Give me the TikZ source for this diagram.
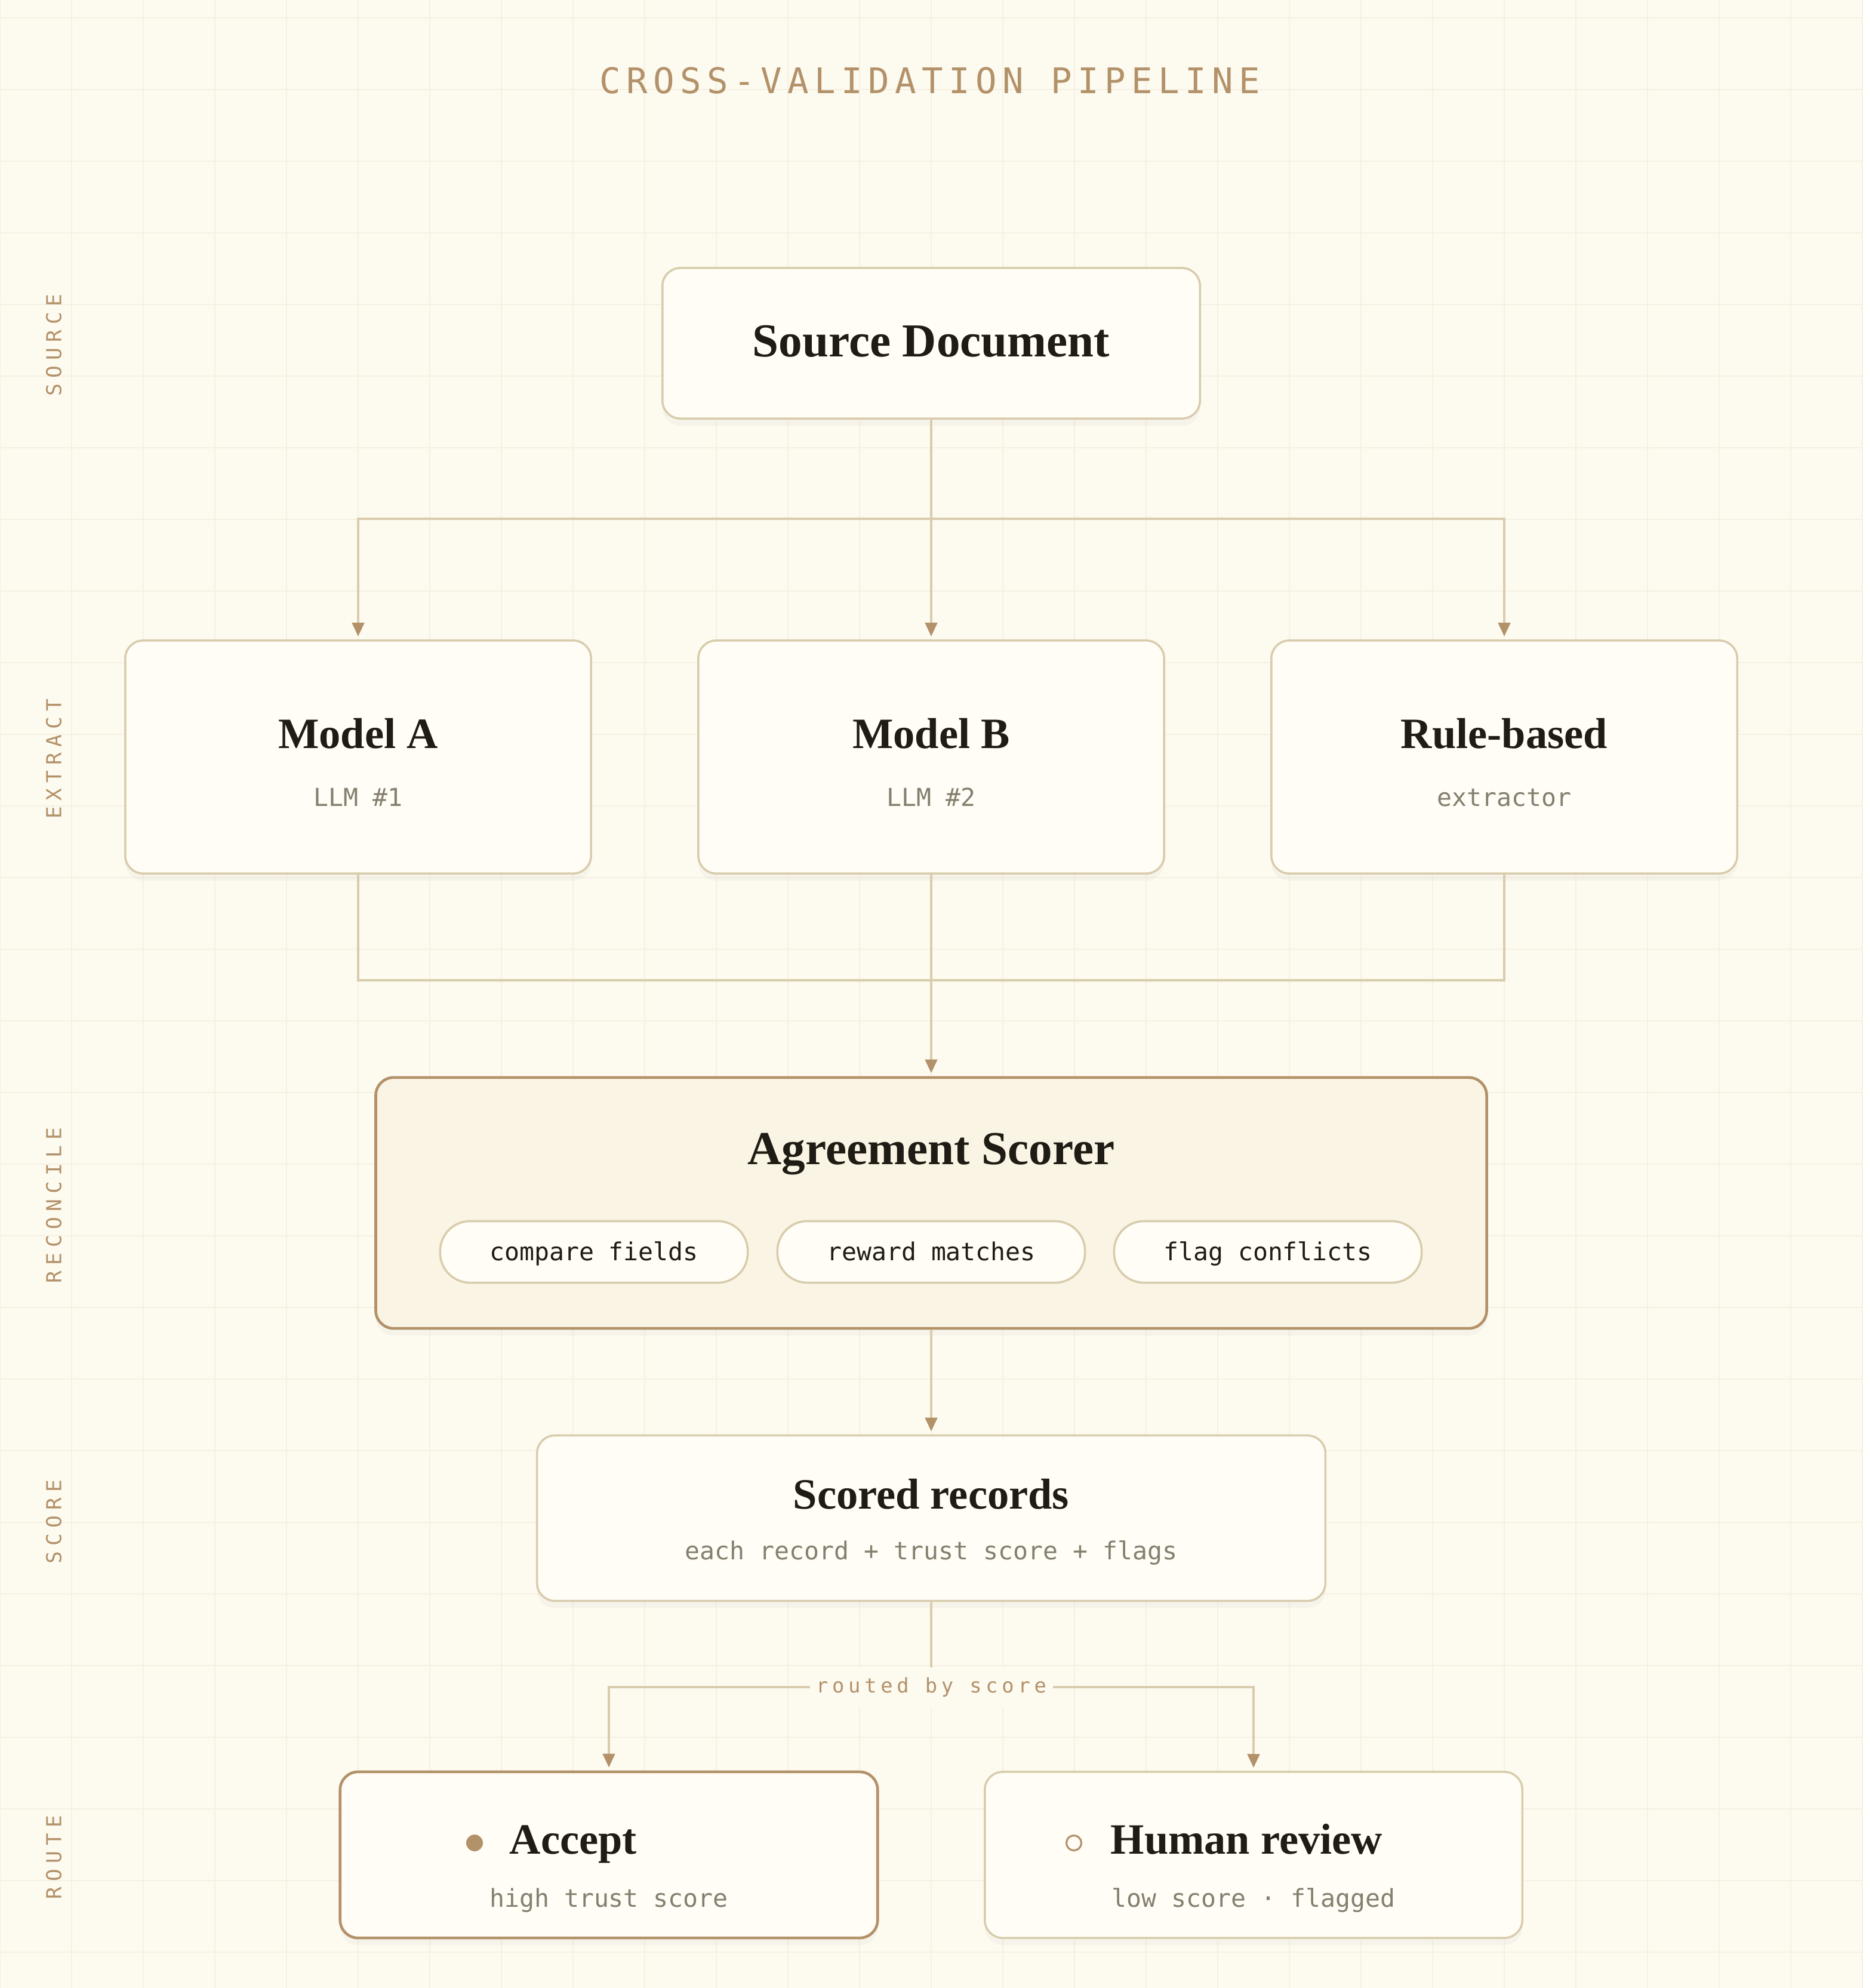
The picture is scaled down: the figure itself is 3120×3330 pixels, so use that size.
\documentclass[tikz,border=0pt]{standalone}
\usepackage{fontspec}
\setmainfont{Liberation Serif}
\newfontfamily\codefont{DejaVu Sans Mono}
\newfontfamily\headfont[LetterSpace=16]{DejaVu Sans Mono}
\newfontfamily\lanefont[LetterSpace=27]{DejaVu Sans Mono}
\newfontfamily\routefont[LetterSpace=20]{DejaVu Sans Mono}
\usetikzlibrary{positioning,arrows.meta,shadows}

\definecolor{paper}{HTML}{FDFBF0}
\definecolor{gridc}{HTML}{F5F0E2}
\definecolor{cardfill}{HTML}{FFFDF6}
\definecolor{hubfill}{HTML}{FAF4E4}
\definecolor{edge}{HTML}{D8CCAC}
\definecolor{accent}{HTML}{B39169}
\definecolor{ink}{HTML}{1F1C15}
\definecolor{muted}{HTML}{857F6E}

\tikzset{
  card/.style={draw=edge, line width=1pt, fill=cardfill, rounded corners=0.3cm,
    inner sep=0pt, drop shadow={shadow xshift=0cm, shadow yshift=-0.12cm, opacity=0.05}},
  hub/.style={card, draw=accent, line width=1.3pt, fill=hubfill},
  keep/.style={card, draw=accent, line width=1.3pt},
  pill/.style={draw=edge, line width=1pt, fill=cardfill, rounded corners=0.5cm,
    minimum width=5.15cm, minimum height=1.03cm, inner sep=0pt, text=ink,
    font=\codefont\fontsize{11.8}{14}\selectfont, text height=10pt, text depth=1.5pt},
  bigtitle/.style={font=\bfseries\fontsize{22.5}{26}\selectfont, text=ink, inner sep=0pt, anchor=base},
  cardtitle/.style={font=\bfseries\fontsize{20.6}{24}\selectfont, text=ink, inner sep=0pt, anchor=base},
  subline/.style={font=\codefont\fontsize{11.8}{14}\selectfont, text=muted, inner sep=0pt, anchor=base},
  lane/.style={font=\lanefont\fontsize{9.8}{11}\selectfont, text=accent, rotate=90, inner sep=0pt},
  heading/.style={font=\headfont\fontsize{16.8}{20}\selectfont, text=accent, inner sep=0pt, anchor=base},
  wire/.style={draw=edge, line width=1.3pt},
  flow/.style={wire, -{Triangle[length=0.23cm, width=0.2cm, color=accent]}, shorten >=0.05cm},
  gridline/.style={draw=gridc, line width=0.6pt},
}

\begin{document}
\begin{tikzpicture}[x=0.01cm,y=-0.01cm]
\fill[paper] (0,0) rectangle (3120,3330);
\useasboundingbox (0,0) rectangle (3120,3330);
\foreach \gx in {0,120,...,3120} \draw[gridline] (\gx,0) -- (\gx,3330);
\foreach \gy in {30,150,...,3270} \draw[gridline] (0,\gy) -- (3120,\gy);

\node[heading] (title) at (1558,156) {CROSS-VALIDATION PIPELINE};

% lanes
\node[lane] (lsrc) at (90,578) {SOURCE};
\node[lane] (lext) at (90,1271) {EXTRACT};
\node[lane] (lrec) at (90,2019) {RECONCILE};
\node[lane] (lsco) at (90,2549) {SCORE};
\node[lane] (lrou) at (90,3111) {ROUTE};

% boxes
\node[card, minimum width=9cm, minimum height=2.52cm] (src) at (1560,575) {};
\node[card, minimum width=7.8cm, minimum height=3.9cm] (mA) at (600,1268) {};
\node[card, minimum width=7.8cm, minimum height=3.9cm] (mB) at (1560,1268) {};
\node[card, minimum width=7.8cm, minimum height=3.9cm] (rule) at (2520,1268) {};
\node[hub, minimum width=18.6cm, minimum height=4.2cm] (agree) at (1560,2015) {};
\node[card, minimum width=13.2cm, minimum height=2.77cm] (rec) at (1560,2543) {};
\node[keep, minimum width=9cm, minimum height=2.78cm] (acc) at (1020,3107) {};
\node[card, minimum width=9cm, minimum height=2.78cm] (hum) at (2100,3107) {};

\node[bigtitle] (srct) at (1560,597) {Source Document};
\node[cardtitle] (mAt) at (600,1253) {Model A};
\node[subline] (mAs) at (600,1350) {LLM \#1};
\node[cardtitle] (mBt) at (1560,1253) {Model B};
\node[subline] (mBs) at (1560,1350) {LLM \#2};
\node[cardtitle] (rulet) at (2520,1253) {Rule-based};
\node[subline] (rules) at (2520,1350) {extractor};
\node[bigtitle] (agreet) at (1560,1950) {Agreement Scorer};
\node[pill] (cmp) at (995,2097) {compare fields};
\node[pill] (rwd) at (1560,2097) {reward matches};
\node[pill] (flg) at (2124,2097) {flag conflicts};
\node[cardtitle] (rect) at (1560,2527) {Scored records};
\node[subline] (recs) at (1560,2612) {each record + trust score + flags};
\node[circle, fill=accent, minimum size=0.28cm, inner sep=0pt] (accdot) at (795,3087) {};
\node[cardtitle, anchor=base west] (acct) at (853,3105) {Accept};
\node[subline] (accs) at (1020,3194) {high trust score};
\node[circle, draw=accent, line width=0.9pt, minimum size=0.25cm, inner sep=0pt] (humdot) at (1799,3087) {};
\node[cardtitle, anchor=base west] (humt) at (1860,3105) {Human review};
\node[subline] (hums) at (2100,3194) {low score · flagged};

% connectors
\coordinate (split) at (1560,869);
\coordinate (join) at (1560,1642);
\coordinate (fork) at (1560,2826);
\draw[flow] (src.south) -- (mB.north);
\draw[flow] (split) -| (mA.north);
\draw[flow] (split) -| (rule.north);
\draw[wire] (mA.south) |- (join);
\draw[wire] (rule.south) |- (join);
\draw[flow] (mB.south) -- (agree.north);
\draw[flow] (agree.south) -- (rec.north);
\draw[wire] (rec.south) -- (fork);
\draw[flow] (fork) -| (acc.north);
\draw[flow] (fork) -| (hum.north);
\node[fill=paper, inner xsep=3pt, minimum height=0.67cm, text=accent,
  font=\routefont\fontsize{9.6}{11}\selectfont] (route) at (fork) {routed by score};
\end{tikzpicture}
\end{document}
